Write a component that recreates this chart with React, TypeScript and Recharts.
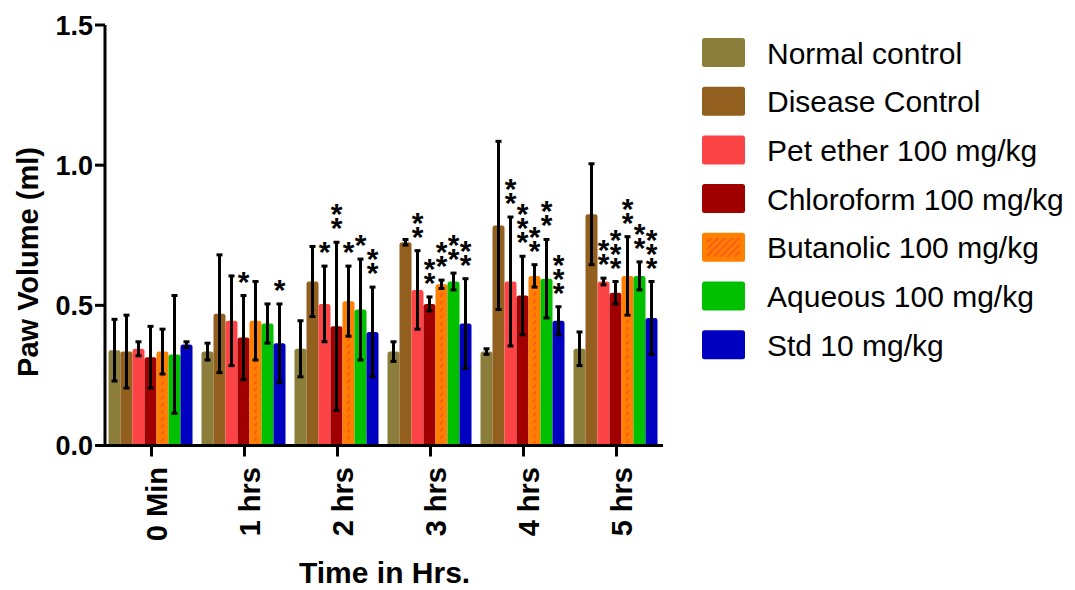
import { Bar, BarChart, ErrorBar, Label, LabelList, XAxis, YAxis } from "recharts";

const FONT = '"Liberation Sans", Arial, Helvetica, sans-serif';

const categories = ["0 Min", "1 hrs", "2 hrs", "3 hrs", "4 hrs", "5 hrs"];
const yTicks = [0, 0.5, 1.0, 1.5];

const seriesNames = [
  "Normal control",
  "Disease Control",
  "Pet ether 100 mg/kg",
  "Chloroform 100 mg/kg",
  "Butanolic 100 mg/kg",
  "Aqueous 100 mg/kg",
  "Std 10 mg/kg",
];
const seriesColors = ["#8b7d3a", "#925f1e", "#fc4446", "#a00000", "#ff8000", "#00c000", "#0000c0"];

// mean paw volume (ml)
const normalControl = [0.34, 0.335, 0.345, 0.335, 0.335, 0.345];
const diseaseControl = [0.335, 0.47, 0.585, 0.725, 0.785, 0.825];
const petEther = [0.345, 0.445, 0.505, 0.555, 0.585, 0.585];
const chloroform = [0.315, 0.385, 0.425, 0.505, 0.535, 0.545];
const butanolic = [0.335, 0.445, 0.515, 0.575, 0.605, 0.605];
const aqueous = [0.325, 0.435, 0.485, 0.585, 0.595, 0.605];
const std10 = [0.36, 0.365, 0.405, 0.435, 0.445, 0.455];

// error bars
const normalControlErr = [0.11, 0.03, 0.1, 0.035, 0.01, 0.06];
const diseaseControlErr = [0.13, 0.21, 0.125, 0.01, 0.3, 0.18];
const petEtherErr = [0.025, 0.16, 0.135, 0.14, 0.23, 0.012];
const chloroformErr = [0.11, 0.15, 0.3, 0.025, 0.14, 0.04];
const butanolicErr = [0.08, 0.14, 0.125, 0.015, 0.04, 0.14];
const aqueousErr = [0.21, 0.07, 0.18, 0.03, 0.14, 0.05];
const std10Err = [0.01, 0.14, 0.16, 0.16, 0.05, 0.13];

// number of significance asterisks
const normalControlStars = [0, 0, 0, 0, 0, 0];
const diseaseControlStars = [0, 0, 0, 0, 0, 0];
const petEtherStars = [0, 0, 1, 2, 2, 2];
const chloroformStars = [0, 1, 2, 2, 3, 3];
const butanolicStars = [0, 0, 1, 2, 2, 2];
const aqueousStars = [0, 0, 1, 2, 2, 2];
const std10Stars = [0, 1, 2, 2, 3, 3];

const means = [normalControl, diseaseControl, petEther, chloroform, butanolic, aqueous, std10];
const errs = [normalControlErr, diseaseControlErr, petEtherErr, chloroformErr, butanolicErr, aqueousErr, std10Err];
const stars = [normalControlStars, diseaseControlStars, petEtherStars, chloroformStars, butanolicStars, aqueousStars, std10Stars];

const chartData = categories.map((name, i) => {
  const row: Record<string, string | number> = { name };
  means.forEach((m, s) => {
    row[`s${s}`] = m[i];
    row[`e${s}`] = errs[s][i];
    row[`n${s}`] = stars[s][i];
  });
  return row;
});

function topRounded(x: number, y: number, w: number, h: number, r: number) {
  return `M${x},${y + h} L${x},${y + r} Q${x},${y} ${x + r},${y} L${x + w - r},${y} Q${x + w},${y} ${x + w},${y + r} L${x + w},${y + h} Z`;
}

function HatchedBar(props: any) {
  const { x, y, width, height, fill } = props;
  if (!height || height <= 0) return null;
  return (
    <g>
      <path d={topRounded(x, y, width, height, 2.5)} fill={fill} />
      <rect x={x + width / 2 - 1.5} y={y + 4} width={3} height={Math.max(0, height - 6)} fill="url(#butHatch)" />
    </g>
  );
}

function XTick(props: any) {
  const { x, y, payload } = props;
  const ax = x + 15.5;
  const ay = y + 8.5;
  return (
    <text
      x={ax}
      y={ay}
      transform={`rotate(-90, ${ax}, ${ay})`}
      textAnchor="end"
      fontFamily={FONT}
      fontWeight="bold"
      fontSize={29}
      fill="#000"
    >
      {payload.value}
    </text>
  );
}

const starContent = (s: number) => (props: any) => {
  const { x, y, width, height, index } = props;
  const n = stars[s][index];
  if (!n) return null;
  const unit = height / means[s][index];
  const errTop = y - errs[s][index] * unit;
  const cx = x + width / 2;
  const lines = [];
  for (let k = n - 1; k >= 0; k--) {
    const cy = errTop - 21 - k * 14;
    lines.push(
      <tspan key={k} x={cx} y={cy + 17}>
        *
      </tspan>
    );
  }
  return (
    <text key={`st-${s}-${index}`} textAnchor="middle" fontFamily={FONT} fontWeight="bold" fontSize={30} fill="#000">
      {lines}
    </text>
  );
};

function LegendBox() {
  return (
    <svg width={1075} height={590} style={{ position: "absolute", left: 0, top: 0, pointerEvents: "none" }}>
      <defs>
        <pattern id="butHatch" width="5" height="5" patternUnits="userSpaceOnUse" patternTransform="rotate(45)">
          <rect width="5" height="5" fill="#ff8000" />
          <rect width="2" height="5" fill="#ff5a1a" />
        </pattern>
      </defs>
      {seriesNames.map((name, i) => {
        const top = 38 + i * 48.7;
        return (
          <g key={name}>
            <rect x={702} y={top} width={43} height={29} rx={2.5} fill={seriesColors[i]} />
            {i === 4 && <rect x={707} y={top + 5} width={33} height={19} fill="url(#butHatch)" />}
            <text x={767} y={top + 14.5 + 11} fontFamily={FONT} fontSize={30} fill="#000">
              {name}
            </text>
          </g>
        );
      })}
    </svg>
  );
}

export default function App() {
  return (
    <div style={{ position: "absolute", left: 0, top: 0, width: 1075, height: 590, background: "#fff" }}>
      <BarChart
        width={1075}
        height={590}
        data={chartData}
        margin={{ top: 25, right: 412, bottom: 0, left: 0 }}
        barCategoryGap={3.5}
        barGap={0}
      >
        <YAxis
          width={105}
          domain={[0, 1.5]}
          ticks={yTicks}
          interval={0}
          tickFormatter={(v: number) => v.toFixed(1)}
          tickSize={10}
          axisLine={{ stroke: "#000", strokeWidth: 3 }}
          tickLine={{ stroke: "#000", strokeWidth: 3 }}
          tick={{ fill: "#000", fontFamily: FONT, fontWeight: "bold", fontSize: 27 }}
        >
          <Label
            content={() => (
              <text
                x={38}
                y={262}
                transform="rotate(-90, 38, 262)"
                textAnchor="middle"
                fontFamily={FONT}
                fontWeight="bold"
                fontSize={29}
                fill="#000"
              >
                Paw Volume (ml)
              </text>
            )}
          />
        </YAxis>
        <XAxis
          dataKey="name"
          height={144.5}
          interval={0}
          tickSize={11}
          axisLine={{ stroke: "#000", strokeWidth: 3 }}
          tickLine={{ stroke: "#000", strokeWidth: 3 }}
          tick={<XTick />}
        >
          <Label
            content={() => (
              <text x={384.6} y={583} textAnchor="middle" fontFamily={FONT} fontWeight="bold" fontSize={30} fill="#000">
                Time in Hrs.
              </text>
            )}
          />
        </XAxis>
        {seriesNames.map((name, s) => (
          <Bar
            key={name}
            dataKey={`s${s}`}
            name={name}
            fill={seriesColors[s]}
            radius={[2.5, 2.5, 0, 0]}
            shape={s === 4 ? <HatchedBar /> : undefined}
            isAnimationActive={false}
          >
            <ErrorBar dataKey={`e${s}`} width={3} strokeWidth={3} stroke="#000" direction="y" />
            <LabelList dataKey={`n${s}`} content={starContent(s)} />
          </Bar>
        ))}
      </BarChart>
      <LegendBox />
    </div>
  );
}
